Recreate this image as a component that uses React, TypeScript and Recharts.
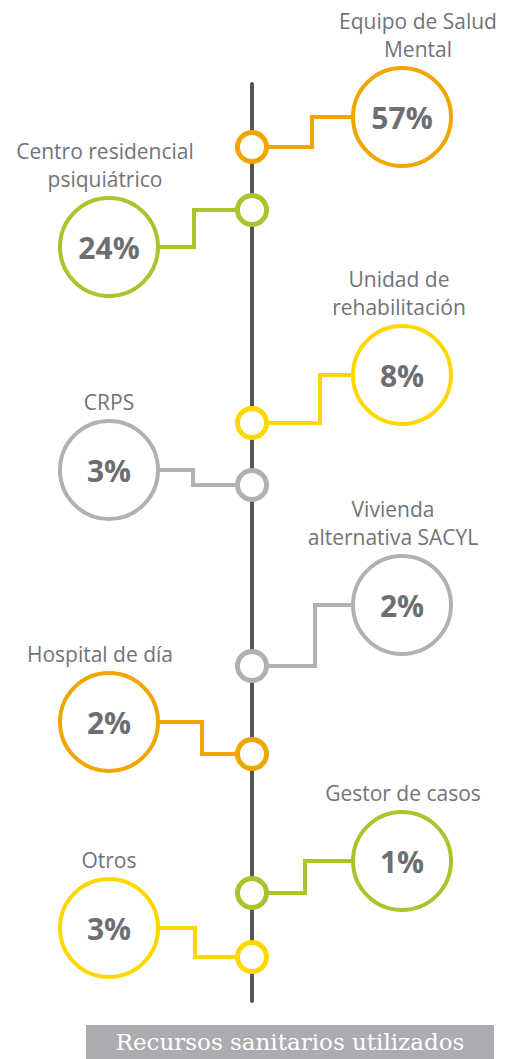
import React from 'react';
import { ScatterChart, Scatter, XAxis, YAxis } from 'recharts';

// ---- data ----
const categories = [
  'Equipo de Salud\nMental',
  'Centro residencial\npsiquiátrico',
  'Unidad de\nrehabilitación',
  'CRPS',
  'Vivienda\nalternativa SACYL',
  'Hospital de día',
  'Gestor de casos',
  'Otros',
];
const values = [57, 24, 8, 3, 2, 2, 1, 3];
const sides = ['right', 'left', 'right', 'left', 'right', 'left', 'right', 'left'];
const footerTitle = 'Recursos sanitarios utilizados';

// ---- styles ----
const ORANGE = '#F1A500';
const GREEN = '#A8C62C';
const YELLOW = '#FFD700';
const GRAY = '#B1B0B5';
const itemColors = [ORANGE, GREEN, YELLOW, GRAY, GRAY, ORANGE, GREEN, YELLOW];
const TEXT = '#6D6E71';
const LABEL_TEXT = '#727376';
const SPINE = '#555555';

// ---- layout (pixel units on the chart's identity scales) ----
const W = 512;
const H = 1059;
const SPINE_X = 252;
const SPINE_TOP = 84;
const SPINE_BOTTOM = 1001;
const NODE_Y = [147, 210, 423, 485, 666, 754, 893, 957];
const BUBBLE_Y = [117, 247, 375, 470, 605, 722, 861, 928];
const BUBBLE_X = { right: 402, left: 109 };
const ELBOW_X = [312, 194, 320, 193, 315, 202, 305, 195];
const LABEL_DX = [16, -4, -3, 0, -9, -9, 1, 0];

const spineData = [
  { x: SPINE_X, y: SPINE_TOP },
  { x: SPINE_X, y: SPINE_BOTTOM },
];

const items = categories.map((c, i) => ({
  name: c,
  value: values[i],
  color: itemColors[i],
  side: sides[i],
  bx: BUBBLE_X[sides[i] as 'left' | 'right'],
}));

const nodeData = items.map((it, i) => ({ x: SPINE_X, y: NODE_Y[i], idx: i }));
const bubbleData = items.map((it, i) => ({ x: it.bx, y: BUBBLE_Y[i], idx: i }));
const connectorData = items.map((it, i) => [
  { x: SPINE_X, y: NODE_Y[i] },
  { x: ELBOW_X[i], y: NODE_Y[i] },
  { x: ELBOW_X[i], y: BUBBLE_Y[i] },
  { x: it.bx, y: BUBBLE_Y[i] },
]);

const Empty = () => <g />;

const NodeShape = (props: any) => {
  const { cx, cy, payload } = props;
  const it = items[payload.idx];
  return <circle cx={cx} cy={cy} r={14.5} fill="#fff" stroke={it.color} strokeWidth={5} />;
};

const BubbleShape = (props: any) => {
  const { cx, cy, payload } = props;
  const i = payload.idx;
  const it = items[i];
  const lines = it.name.split('\n');
  const lineH = 28;
  const lastY = cy - 68;
  return (
    <g>
      <circle cx={cx} cy={cy} r={49} fill="#fff" stroke={it.color} strokeWidth={4} />
      <text
        x={cx}
        y={cy}
        textAnchor="middle"
        dominantBaseline="central"
        fontFamily="'Open Sans', sans-serif"
        fontWeight={700}
        fontSize={30}
        fill={TEXT}
      >
        {it.value + '%'}
      </text>
      {lines.map((ln, k) => (
        <text
          key={k}
          x={cx + LABEL_DX[i]}
          y={lastY - (lines.length - 1 - k) * lineH}
          textAnchor="middle"
          dominantBaseline="central"
          fontFamily="'Open Sans', sans-serif"
          fontSize={21}
          fill={LABEL_TEXT}
        >
          {ln}
        </text>
      ))}
    </g>
  );
};

export default function App() {
  return (
    <div style={{ position: 'relative', width: W, height: H, background: '#fff' }}>
      <style>{'body{margin:0;background:#fff}'}</style>
      <ScatterChart width={W} height={H} margin={{ top: 0, right: 0, bottom: 0, left: 0 }}>
        <XAxis type="number" dataKey="x" domain={[0, W]} hide />
        <YAxis type="number" dataKey="y" domain={[0, H]} reversed hide />
        <Scatter
          data={spineData}
          shape={Empty}
          line={{ stroke: SPINE, strokeWidth: 4, strokeLinecap: 'round' }}
          isAnimationActive={false}
        />
        {connectorData.map((d, i) => (
          <Scatter
            key={'c' + i}
            data={d}
            shape={Empty}
            line={{ stroke: items[i].color, strokeWidth: 4 }}
            isAnimationActive={false}
          />
        ))}
        <Scatter data={nodeData} shape={NodeShape} isAnimationActive={false} />
        <Scatter data={bubbleData} shape={BubbleShape} isAnimationActive={false} />
      </ScatterChart>
      <div
        style={{
          position: 'absolute',
          left: 86,
          top: 1025,
          width: 408,
          height: 34,
          background: '#ACABB0',
          color: '#fff',
          fontFamily: "'DejaVu Serif', serif",
          fontSize: 23,
          lineHeight: '34px',
          textAlign: 'center',
          whiteSpace: 'nowrap',
          overflow: 'hidden',
        }}
      >
        {footerTitle}
      </div>
    </div>
  );
}
